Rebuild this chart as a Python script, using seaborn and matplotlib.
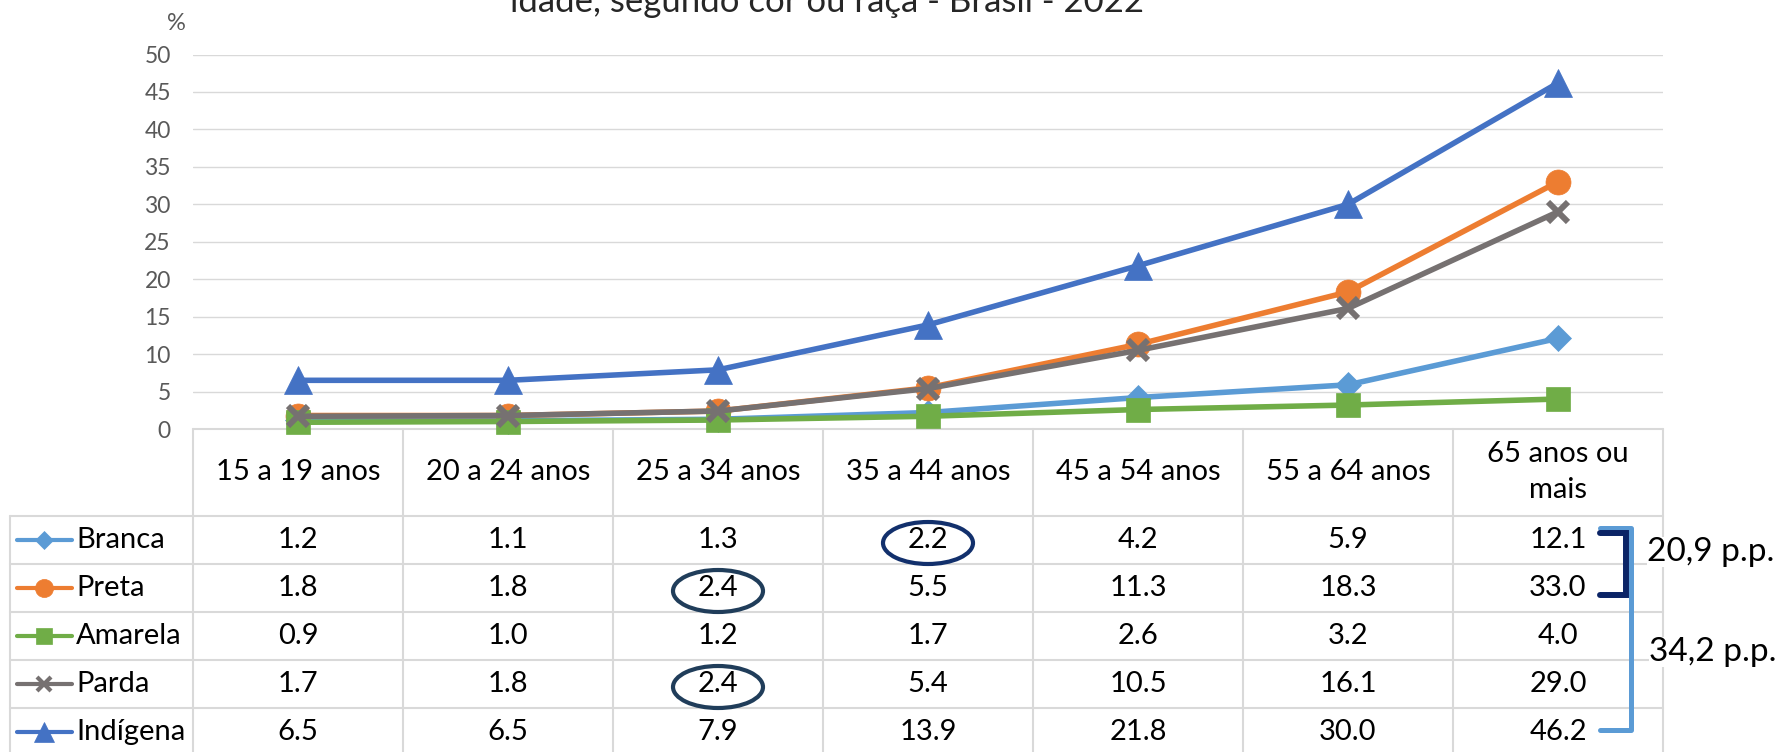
import matplotlib
matplotlib.use("Agg")
import matplotlib.pyplot as plt
import matplotlib.transforms as mtransforms
from matplotlib.patches import Ellipse
from matplotlib.lines import Line2D
import seaborn as sns
import pandas as pd

# ---------------- data ----------------
faixas = ["15 a 19 anos", "20 a 24 anos", "25 a 34 anos", "35 a 44 anos",
          "45 a 54 anos", "55 a 64 anos", "65 anos ou\nmais"]
cores = ["Branca", "Preta", "Amarela", "Parda", "Indígena"]
branca = [1.2, 1.1, 1.3, 2.2, 4.2, 5.9, 12.1]
preta = [1.8, 1.8, 2.4, 5.5, 11.3, 18.3, 33.0]
amarela = [0.9, 1.0, 1.2, 1.7, 2.6, 3.2, 4.0]
parda = [1.7, 1.8, 2.4, 5.4, 10.5, 16.1, 29.0]
indigena = [6.5, 6.5, 7.9, 13.9, 21.8, 30.0, 46.2]
series = [branca, preta, amarela, parda, indigena]
yticks = list(range(0, 55, 5))
titulo = "idade, segundo cor ou raça - Brasil - 2022"
destaques = [("Branca", 3), ("Preta", 2), ("Parda", 2)]
anotacoes = ["20,9 p.p.", "34,2 p.p."]

palette = {"Branca": "#5B9BD5", "Preta": "#ED7D31", "Amarela": "#70AD47",
           "Parda": "#767171", "Indígena": "#4472C4"}
markers = {"Branca": "D", "Preta": "o", "Amarela": "s", "Parda": "x", "Indígena": "^"}
msizes = {"Branca": 13, "Preta": 18, "Amarela": 17, "Parda": 14, "Indígena": 20}
leg_ms = {"Branca": 9, "Preta": 13, "Amarela": 12, "Parda": 10, "Indígena": 14}

rows = []
for c, vals in zip(cores, series):
    for f, v in zip(faixas, vals):
        rows.append({"faixa": f, "cor": c, "valor": v})
df = pd.DataFrame(rows)

# ---------------- figure ----------------
sns.set_theme(style="white")
plt.rcParams["font.family"] = ["Lato", "DejaVu Sans"]

W, H = 1783, 752
fig = plt.figure(figsize=(W / 100, H / 100), dpi=100)
fig.patch.set_facecolor("white")

x0, x1 = 193, 1663
ytop, ybot = 54.5, 429
ax = fig.add_axes([x0 / W, 1 - ybot / H, (x1 - x0) / W, (ybot - ytop) / H])
ax.set_zorder(3)
ax.patch.set_alpha(0)

# overlay in pixel coordinates for the data table
ov = fig.add_axes([0, 0, 1, 1])
ov.set_zorder(1)
ov.set_xlim(0, W)
ov.set_ylim(H, 0)
ov.axis("off")

for c in cores:
    col = palette[c]
    sub = df[df["cor"] == c]
    sns.lineplot(data=sub, x="faixa", y="valor", color=col, marker=markers[c],
                 markersize=msizes[c], mfc=col, mec=col,
                 mew=4.3 if c == "Parda" else 0.5,
                 linewidth=4.0, sort=False, legend=False, ax=ax, clip_on=False)

ax.set_xlim(-0.5, len(faixas) - 0.5)
ax.set_ylim(0, 50)
ax.set_yticks(yticks)
ax.set_xticks([])
ax.set_xlabel("")
ax.set_ylabel("")
for s in ax.spines.values():
    s.set_visible(False)
ax.grid(axis="y", color="#D9D9D9", linewidth=1.0)
ax.set_axisbelow(True)
ax.tick_params(axis="y", length=0, pad=16, labelsize=16.5, labelcolor="#595959")

fig.text(176 / W, 1 - 23 / H, "%", ha="center", va="center", fontsize=17, color="#595959")
fig.text(827 / W, 1 - 12 / H, titulo, ha="center", va="baseline", fontsize=25, color="#262626")

# blended: x in category units of the plot, y in pixels
bt = mtransforms.blended_transform_factory(ax.transData, ov.transData)

grid_c = "#D9D9D9"
glw = 1.5
n = len(faixas)
row_tops = [516, 564, 612, 660, 708, 756]
row_c = [(a + b) / 2 for a, b in zip(row_tops[:-1], row_tops[1:])]
fs = 21

# table lines
for k in range(n + 1):
    ov.plot([k - 0.5, k - 0.5], [ybot, H], color=grid_c, lw=glw, transform=bt, zorder=1)
ov.plot([-0.5, n - 0.5], [ybot, ybot], color=grid_c, lw=glw, transform=bt, zorder=1)
ov.plot([10, 10], [row_tops[0], H], color=grid_c, lw=glw, zorder=1)
for yy in row_tops[:-1]:
    ov.plot([10, x1], [yy, yy], color=grid_c, lw=glw, zorder=1)

# header
for i, f in enumerate(faixas):
    ov.text(i, 472, f, transform=bt, ha="center", va="center", fontsize=fs,
            color="black", linespacing=1.45, zorder=2)

# rows
for r, (c, vals) in enumerate(zip(cores, series)):
    yc = row_c[r]
    for i, v in enumerate(vals):
        ov.text(i, yc, f"{v:.1f}", transform=bt, ha="center", va="center",
                fontsize=fs, color="black", zorder=2)
    ov.add_line(Line2D([17, 72], [yc, yc], color=palette[c], lw=3, solid_capstyle="round", zorder=2))
    ov.add_line(Line2D([44], [yc], marker=markers[c], ms=leg_ms[c], color=palette[c],
                       mfc=palette[c], mec=palette[c], mew=3 if c == "Parda" else 0.5, zorder=3))
    ov.text(76, yc, c, ha="left", va="center", fontsize=fs, color="black", zorder=2)

# highlighted cells
ell_col = {"Branca": "#12306C", "Preta": "#203D5A", "Parda": "#203D5A"}
for c, i in destaques:
    r = cores.index(c)
    cx = ax.transData.transform((i, 0))[0] * 100 / fig.dpi
    e = Ellipse((cx, row_c[r] + 3), 90, 42, fill=False, edgecolor=ell_col[c], lw=3, zorder=4)
    ov.add_patch(e)

# brackets
ov.plot([1600, 1631, 1631, 1600], [528, 528, 730, 730], color="#5B9BD5", lw=3.6,
        solid_joinstyle="round", zorder=4)
ov.plot([1600, 1626, 1626, 1600], [533, 533, 595, 595], color="#0B2466", lw=4.3,
        solid_joinstyle="miter", zorder=5)
ov.text(1647, 552, anotacoes[0], ha="left", va="center", fontsize=24, color="black", zorder=6,
        bbox=dict(facecolor="white", edgecolor="none", pad=0))
ov.text(1649, 652, anotacoes[1], ha="left", va="center", fontsize=24, color="black", zorder=6,
        bbox=dict(facecolor="white", edgecolor="none", pad=0))

fig.savefig("out.png", dpi=100, facecolor="white")
